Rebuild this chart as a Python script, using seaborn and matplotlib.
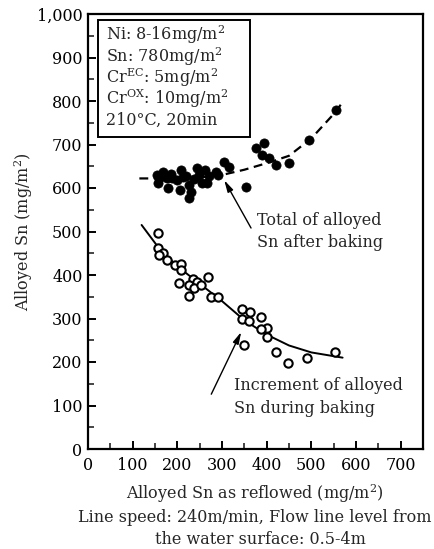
import matplotlib
matplotlib.use("Agg")
import matplotlib.pyplot as plt
import seaborn as sns
import pandas as pd
from matplotlib.patches import Rectangle
from matplotlib.ticker import MultipleLocator, FuncFormatter

# ---- data ----
total_x = [154, 160, 167, 156, 170, 176, 178, 185, 189, 200, 205, 209, 212, 220,
           227, 231, 227, 238, 243, 249, 256, 267, 261, 272, 287, 290, 305, 316,
           354, 376, 394, 390, 405, 421, 450, 494, 555]
total_y = [630, 622, 637, 611, 628, 623, 600, 632, 623, 618, 595, 641, 625, 628,
           607, 591, 577, 620, 646, 630, 611, 611, 641, 628, 637, 630, 660, 648,
           602, 692, 703, 676, 669, 653, 657, 710, 779]

incr_x = [156, 156, 167, 160, 176, 194, 209, 209, 203, 234, 245, 227, 238, 254,
          227, 269, 276, 290, 345, 363, 345, 361, 388, 401, 388, 401, 350, 421,
          448, 490, 552]
incr_y = [497, 462, 450, 446, 434, 423, 425, 411, 382, 391, 384, 377, 370, 377,
          352, 395, 349, 349, 322, 315, 299, 294, 303, 278, 276, 257, 239, 223,
          198, 209, 223]

total_curve_x = [115, 150, 200, 250, 300, 350, 400, 450, 500, 550, 570]
total_curve_y = [622, 622, 622, 624, 630, 642, 657, 674, 714, 770, 797]

incr_curve_x = [120, 160, 200, 250, 300, 350, 400, 450, 500, 570]
incr_curve_y = [515, 460, 420, 380, 340, 296, 263, 238, 222, 210]

x_ticks = [0, 100, 200, 300, 400, 500, 600, 700]
y_ticks = [0, 100, 200, 300, 400, 500, 600, 700, 800, 900, 1000]

box_lines = [r"Ni: 8-16mg/m$^2$", r"Sn: 780mg/m$^2$", r"Cr$^{\mathrm{EC}}$: 5mg/m$^2$",
             r"Cr$^{\mathrm{OX}}$: 10mg/m$^2$", "210°C, 20min"]

# ---- style ----
sns.set_style("ticks")
plt.rcParams["font.family"] = ["DejaVu Serif"]
plt.rcParams["mathtext.fontset"] = "dejavuserif"

FS = 11.5

fig = plt.figure(figsize=(4.35, 5.49), dpi=100)
ax = fig.add_axes([88 / 435, 100 / 549, 335 / 435, 435 / 549])

df_t = pd.DataFrame({"x": total_x, "y": total_y})
df_i = pd.DataFrame({"x": incr_x, "y": incr_y})
df_tc = pd.DataFrame({"x": total_curve_x, "y": total_curve_y})
df_ic = pd.DataFrame({"x": incr_curve_x, "y": incr_curve_y})

sns.lineplot(data=df_tc, x="x", y="y", ax=ax, color="black", lw=1.6,
             linestyle=(0, (4, 2.5)), sort=False, zorder=2)
sns.lineplot(data=df_ic, x="x", y="y", ax=ax, color="black", lw=1.4,
             sort=False, zorder=2)
sns.scatterplot(data=df_t, x="x", y="y", ax=ax, color="black", s=44,
                edgecolor="black", linewidth=0.5, zorder=3)
sns.scatterplot(data=df_i, x="x", y="y", ax=ax, facecolor="white", s=36,
                edgecolor="black", linewidth=1.5, zorder=3)

ax.set_xlim(0, 750)
ax.set_ylim(0, 1000)
ax.set_xticks(x_ticks)
ax.set_yticks(y_ticks)
ax.xaxis.set_minor_locator(MultipleLocator(50))
ax.yaxis.set_minor_locator(MultipleLocator(50))
ax.yaxis.set_major_formatter(FuncFormatter(lambda v, p: f"{int(v):,}"))
ax.tick_params(which="major", direction="in", length=6, width=1.4,
               labelsize=FS, pad=4, colors="black")
ax.tick_params(axis="x", which="major", pad=6)
ax.tick_params(which="minor", direction="in", length=4, width=1.2)
for sp in ax.spines.values():
    sp.set_linewidth(1.6)
    sp.set_color("black")

ax.set_xlabel("")
ax.set_ylabel(r"Alloyed Sn (mg/m$^2$)", fontsize=FS, labelpad=1)

# info box
box_x0, box_y0 = (98 - 88) / 335, (449 - 137) / 435
box_w, box_h = (250 - 98) / 335, (137 - 20) / 435
ax.add_patch(Rectangle((box_x0, box_y0), box_w, box_h, transform=ax.transAxes,
                       facecolor="white", edgecolor="black", lw=1.4, zorder=4))
line_px = [35, 57, 78, 99, 120]
for txt, py in zip(box_lines, line_px):
    ax.text((106 - 88) / 335, (449 - py) / 435, txt, transform=ax.transAxes,
            fontsize=FS, va="center", ha="left", zorder=5)

# annotations
ax.annotate("", xy=(305, 618), xytext=(365, 508),
            arrowprops=dict(arrowstyle="-|>,head_length=0.7,head_width=0.18",
                            color="black", lw=1.0, shrinkA=0, shrinkB=0))
ax.text(379, 526, "Total of alloyed", fontsize=FS, va="center", ha="left")
ax.text(379, 474, "Sn after baking", fontsize=FS, va="center", ha="left")

ax.annotate("", xy=(343, 269), xytext=(276, 126),
            arrowprops=dict(arrowstyle="-|>,head_length=0.7,head_width=0.18",
                            color="black", lw=1.0, shrinkA=0, shrinkB=0))
ax.text(327, 147, "Increment of alloyed", fontsize=FS, va="center", ha="left")
ax.text(327, 94, "Sn during baking", fontsize=FS, va="center", ha="left")

# bottom captions
cx = 255 / 435
fig.text(cx, 1 - 494 / 549, r"Alloyed Sn as reflowed (mg/m$^2$)", fontsize=FS,
         ha="center", va="center")
fig.text(cx, 1 - 517 / 549, "Line speed: 240m/min, Flow line level from",
         fontsize=FS, ha="center", va="center")
fig.text(260 / 435, 1 - 539 / 549, "the water surface: 0.5-4m",
         fontsize=FS, ha="center", va="center")

fig.savefig("out.png", dpi=100)
